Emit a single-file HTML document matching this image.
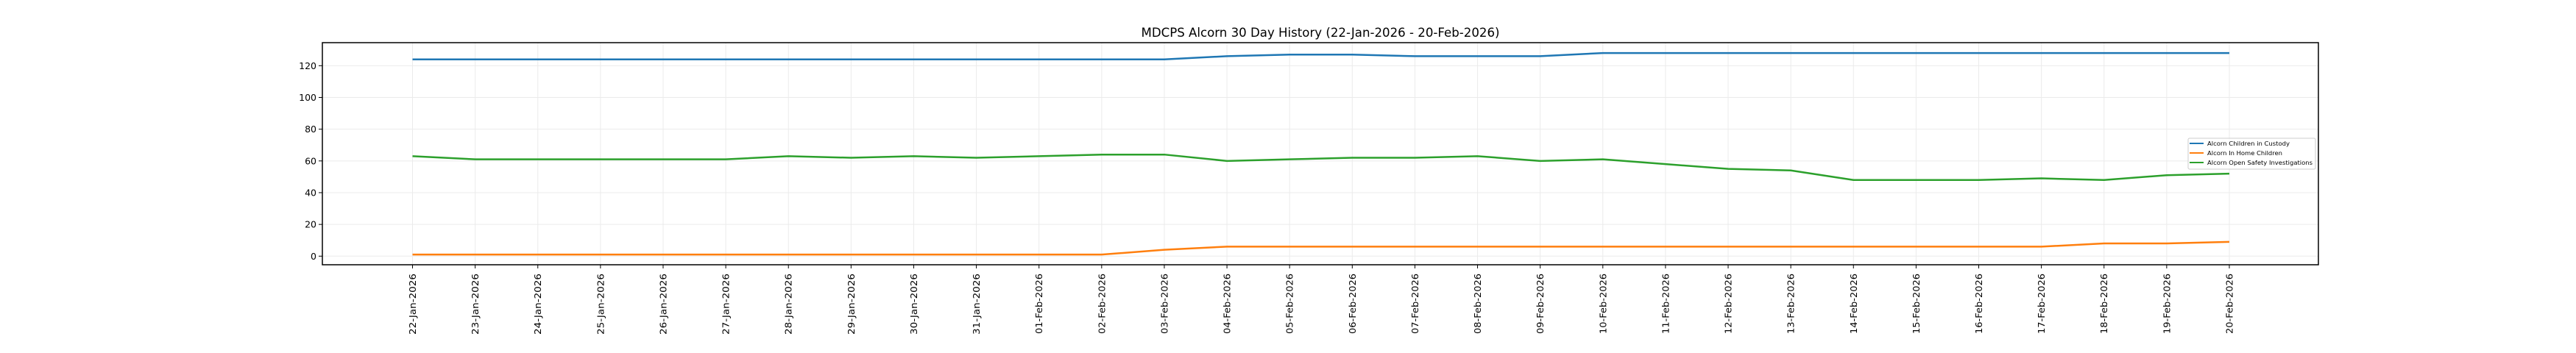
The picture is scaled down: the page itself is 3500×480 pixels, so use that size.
<!DOCTYPE html>
<html><head><meta charset="utf-8"><style>html,body{margin:0;padding:0;background:#fff}svg{display:block}</style></head>
<body>
<svg width="3500" height="480" xmlns="http://www.w3.org/2000/svg" font-family="DejaVu Sans, Liberation Sans, sans-serif">
<rect width="3500" height="480" fill="#fff"/>
<g id="grid" stroke="#ebebeb" stroke-width="1"></g>
<g id="series" fill="none" stroke-width="2.5" stroke-linejoin="round"></g>
<rect x="438" y="58" width="2712" height="302" fill="none" stroke="#000" stroke-width="1.5"/>
<g id="ticks" stroke="#000" stroke-width="1"></g>
<g id="labels" font-size="12.5" fill="#000"></g>
<text x="1794" y="50" font-size="17" text-anchor="middle" textLength="487" lengthAdjust="spacingAndGlyphs">MDCPS Alcorn 30 Day History (22-Jan-2026 - 20-Feb-2026)</text>
<g>
<rect x="2973" y="188" width="173" height="42" fill="#fff" fill-opacity="0.8" stroke="#ccc" stroke-width="1" rx="2"/>
<line x1="2975" y1="195" x2="2994" y2="195" stroke="#1f77b4" stroke-width="2"/>
<line x1="2975" y1="208" x2="2994" y2="208" stroke="#ff7f0e" stroke-width="2"/>
<line x1="2975" y1="221" x2="2994" y2="221" stroke="#2ca02c" stroke-width="2"/>
<text x="2999" y="198" font-size="8" textLength="112" lengthAdjust="spacingAndGlyphs">Alcorn Children in Custody</text>
<text x="2999" y="211" font-size="8" textLength="102" lengthAdjust="spacingAndGlyphs">Alcorn In Home Children</text>
<text x="2999" y="224" font-size="8" textLength="143" lengthAdjust="spacingAndGlyphs">Alcorn Open Safety Investigations</text>
</g>
<script>
var X0=560.5,DX=85.12,Y0=348.3,DY=2.158;
function X(i){return X0+i*DX}function Y(v){return Y0-v*DY}
var ns="http://www.w3.org/2000/svg";
function el(p,t,a,txt){var e=document.createElementNS(ns,t);for(var k in a)e.setAttribute(k,a[k]);if(txt!=null)e.textContent=txt;document.getElementById(p).appendChild(e);return e}
var dates=[];
for(var d=22;d<=31;d++)dates.push(d+"-Jan-2026");
for(var d=1;d<=20;d++)dates.push((d<10?"0":"")+d+"-Feb-2026");
for(var i=0;i<30;i++){var x=X(i);
 el("grid","line",{x1:x,y1:58,x2:x,y2:360});
 el("ticks","line",{x1:x,y1:360,x2:x,y2:365});
 el("labels","text",{x:0,y:0,transform:"translate("+(x+4.5)+",372) rotate(-90)","text-anchor":"end",textLength:(i<10?83:82),lengthAdjust:"spacingAndGlyphs"},dates[i]);}
for(var v=0;v<=120;v+=20){var y=Y(v);
 el("grid","line",{x1:438,y1:y,x2:3150,y2:y});
 el("ticks","line",{x1:433,y1:y,x2:438,y2:y});
 el("labels","text",{x:430,y:y+4.5,"text-anchor":"end"},String(v));}
var blue=[124,124,124,124,124,124,124,124,124,124,124,124,124,126,127,127,126,126,126,128,128,128,128,128,128,128,128,128,128,128];
var orange=[1,1,1,1,1,1,1,1,1,1,1,1,4,6,6,6,6,6,6,6,6,6,6,6,6,6,6,8,8,9];
var green=[63,61,61,61,61,61,63,62,63,62,63,64,64,60,61,62,62,63,60,61,58,55,54,48,48,48,49,48,51,52];
[[blue,"#1f77b4"],[orange,"#ff7f0e"],[green,"#2ca02c"]].forEach(function(s){
 el("series","polyline",{points:s[0].map(function(v,i){return X(i)+","+Y(v)}).join(" "),stroke:s[1]});});
</script>
</svg>
</body></html>
